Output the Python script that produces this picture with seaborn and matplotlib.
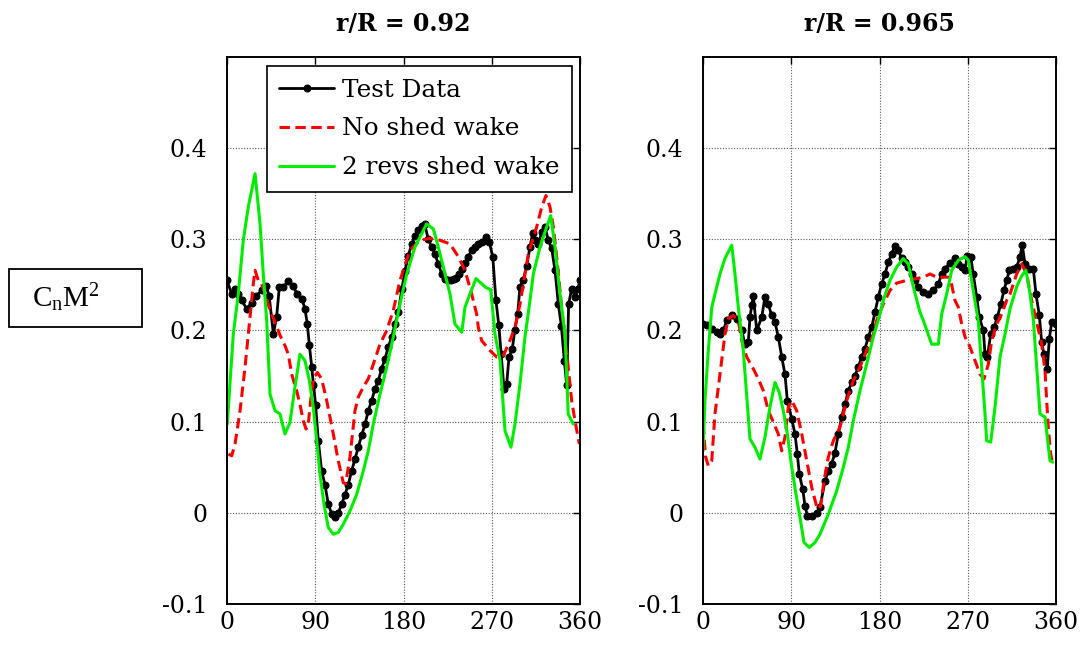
import matplotlib
matplotlib.use("Agg")
import matplotlib.pyplot as plt
from matplotlib.patches import Rectangle
import seaborn as sns

# ---- r/R = 0.92 ------------------------------------------------------------
test_az_92 = [0, 4.8, 8.2, 11.5, 15, 20, 25, 30, 35.4, 39.8, 43, 47.3, 50.6, 53.4,
              57.4, 62.5, 67, 71.7, 76.2, 79.5, 81.9, 84, 86.4, 88.2, 90.4, 93.1,
              96.5, 99.9, 103.3, 106.7, 110, 113.5, 117, 120.3, 123.7, 127.1,
              130.5, 133.9, 137.3, 140.7, 144.1, 147.5, 150.9, 154.3, 157.7,
              161.1, 164.5, 168, 171.3, 174.7, 178.2, 181.5, 184.9, 188.4, 191.8,
              195.2, 198.6, 201.5, 205.3, 208.8, 212, 215.5, 219, 222.3, 225,
              228, 231, 234, 237, 240, 243, 246.1, 249.5, 252.9, 256.3, 259.7,
              264.1, 267.5, 271, 274.3, 277.2, 279.6, 282.5, 285.2, 287.6, 291,
              293.4, 296.4, 298.8, 302.2, 305.6, 309, 311.7, 314.1, 317.5, 321,
              324.3, 327.7, 331.1, 334.5, 337.9, 341, 344, 346.5, 348.4, 351.5,
              354.9, 357.5, 360]
test_cn_92 = [0.255, 0.240, 0.246, 0.240, 0.233, 0.224, 0.230, 0.238, 0.244, 0.249,
              0.238, 0.196, 0.215, 0.248, 0.248, 0.254, 0.249, 0.240, 0.235, 0.224,
              0.207, 0.184, 0.160, 0.140, 0.118, 0.079, 0.046, 0.031, 0.0095,
              -0.001, -0.005, 0.000, 0.0095, 0.020, 0.031, 0.046, 0.059, 0.072,
              0.085, 0.097, 0.112, 0.123, 0.136, 0.145, 0.158, 0.169, 0.182, 0.193,
              0.207, 0.220, 0.245, 0.265, 0.282, 0.295, 0.304, 0.310, 0.315, 0.317,
              0.300, 0.2915, 0.284, 0.273, 0.262, 0.257, 0.255, 0.255, 0.256,
              0.258, 0.262, 0.268, 0.274, 0.281, 0.288, 0.2915, 0.2945, 0.297,
              0.3025, 0.297, 0.281, 0.233, 0.2055, 0.174, 0.136, 0.141, 0.171,
              0.180, 0.200, 0.218, 0.248, 0.255, 0.271, 0.2915, 0.307, 0.299,
              0.295, 0.308, 0.3135, 0.299, 0.290, 0.266, 0.229, 0.205, 0.167,
              0.140, 0.229, 0.246, 0.237, 0.245, 0.255]

noshed_az_92 = [1.4, 4.8, 8.2, 13.3, 18.4, 23.5, 26.8, 28.6, 31.9, 35, 38.8, 43.9,
                49, 54, 59.1, 62.5, 66, 71, 74.4, 77.8, 80.6, 82.9, 85.3, 88, 92.1,
                96.5, 101.7, 108.4, 113.5, 118.6, 121, 125.4, 130.5, 133.9, 139,
                144.1, 149.2, 156, 162.9, 169.6, 176.4, 186.6, 196.8, 207, 217.2,
                227.4, 235.9, 242.7, 249.5, 254.6, 256.3, 259.7, 268.2, 275, 281.8,
                288.6, 293.7, 298.8, 307.3, 315.8, 321, 325.3, 329.4, 332.8, 336.2,
                339.6, 343, 348, 351.5, 354.9, 359.3]
noshed_cn_92 = [0.0645, 0.0626, 0.0755, 0.112, 0.160, 0.215, 0.251, 0.266, 0.255,
                0.252, 0.240, 0.222, 0.209, 0.195, 0.1835, 0.174, 0.152, 0.134,
                0.119, 0.101, 0.092, 0.0975, 0.123, 0.147, 0.154, 0.147, 0.123,
                0.0865, 0.057, 0.033, 0.032, 0.061, 0.112, 0.127, 0.138, 0.147,
                0.163, 0.185, 0.200, 0.222, 0.255, 0.288, 0.299, 0.301, 0.299,
                0.295, 0.281, 0.266, 0.240, 0.218, 0.2035, 0.189, 0.178, 0.171,
                0.1725, 0.189, 0.2035, 0.229, 0.284, 0.3135, 0.3355, 0.348,
                0.3355, 0.3135, 0.281, 0.244, 0.207, 0.160, 0.123, 0.101, 0.0755]

shed_az_92 = [0.3, 6.4, 11.5, 16.6, 21.7, 28.6, 33.7, 37, 40.5, 43.9, 49, 54, 59.1,
              64.2, 69.3, 74.4, 79.5, 84, 88, 91.5, 94.8, 98.9, 103.3, 108.4, 113.5,
              118.6, 125.4, 132.3, 139, 144.1, 149.2, 156, 162.9, 169.6, 176.4,
              183.3, 191.7, 203.6, 210.4, 215.5, 220.6, 227.4, 232.5, 239.4, 242.7,
              247.8, 253.9, 258, 264.1, 268.9, 273.3, 278.5, 283.5, 289.6, 293.7,
              298.8, 303.9, 309, 312.4, 319.2, 326, 330.1, 334.5, 339.6, 344.7, 348,
              353.1]
shed_cn_92 = [0.0975, 0.196, 0.240, 0.299, 0.3355, 0.372, 0.317, 0.262, 0.210,
              0.130, 0.112, 0.1085, 0.0865, 0.099, 0.138, 0.174, 0.167, 0.145, 0.116,
              0.079, 0.0425, 0.0095, -0.016, -0.0235, -0.0215, -0.0125, 0.002,
              0.0205, 0.046, 0.068, 0.0975, 0.130, 0.160, 0.193, 0.229, 0.262,
              0.2915, 0.317, 0.3115, 0.2915, 0.2695, 0.240, 0.207, 0.198, 0.2255,
              0.240, 0.257, 0.253, 0.247, 0.245, 0.196, 0.167, 0.090, 0.072, 0.0975,
              0.1415, 0.193, 0.233, 0.262, 0.2915, 0.3135, 0.326, 0.2915, 0.240,
              0.196, 0.1085, 0.0975]

# ---- r/R = 0.965 -----------------------------------------------------------
test_az_965 = [0, 3.8, 8.9, 14, 17.3, 20.7, 24.2, 29.3, 34.4, 39.5, 42.8, 46.2,
               47.9, 49.7, 51.3, 54.8, 59.9, 63.2, 66.6, 70, 73.4, 76.8, 80.3, 83.6,
               86, 90.5, 93.8, 96.2, 98.2, 101.7, 104, 106.4, 110.9, 116, 119.3,
               124.4, 127.8, 131.2, 134.6, 138, 141.4, 144.8, 148.2, 151.6, 155,
               158.4, 161.8, 165.2, 168.6, 172, 175.4, 178.8, 182.2, 185.6, 189,
               192.4, 195.8, 199.2, 202.6, 206, 209.4, 212.8, 216.2, 219.6, 224.7,
               229.8, 234.9, 240, 243.4, 246.8, 251.9, 257, 260.4, 263.8, 267.2,
               269.5, 273, 275.6, 279.1, 281.8, 285.9, 287.6, 290, 293.4, 296.8,
               300.2, 303.6, 307, 309.7, 312.4, 315.8, 319.9, 323.3, 325.6, 328.4,
               332.8, 336.8, 339.6, 343, 345.4, 347.7, 351.1, 353.2, 355.6, 360]
test_cn_965 = [0.207, 0.2055, 0.202, 0.198, 0.196, 0.200, 0.211, 0.2165, 0.213,
               0.200, 0.185, 0.187, 0.2145, 0.2275, 0.238, 0.200, 0.2145, 0.237,
               0.229, 0.2165, 0.209, 0.193, 0.171, 0.152, 0.123, 0.103, 0.0865,
               0.0645, 0.0425, 0.026, 0.0077, -0.003, -0.003, 0.0003, 0.006, 0.035,
               0.046, 0.0535, 0.066, 0.0865, 0.105, 0.119, 0.134, 0.143, 0.1505,
               0.160, 0.171, 0.180, 0.193, 0.2035, 0.220, 0.237, 0.251, 0.262,
               0.275, 0.284, 0.293, 0.288, 0.279, 0.275, 0.2695, 0.262, 0.255,
               0.248, 0.242, 0.240, 0.244, 0.251, 0.262, 0.268, 0.274, 0.279,
               0.273, 0.2695, 0.266, 0.282, 0.281, 0.262, 0.237, 0.2145, 0.200,
               0.174, 0.171, 0.196, 0.2035, 0.2145, 0.229, 0.244, 0.255, 0.266,
               0.268, 0.2695, 0.281, 0.2935, 0.273, 0.268, 0.268, 0.240, 0.2165,
               0.187, 0.174, 0.158, 0.191, 0.209, 0.207]

noshed_az_965 = [0.3, 2.5, 5.4, 8.9, 12.2, 17.3, 22.4, 25.8, 30.9, 36, 39.5, 44.6,
                 51.3, 56.4, 61.5, 66.6, 71.1, 76.8, 80.3, 83.6, 87, 90.5, 95.6,
                 100.7, 105.8, 110.9, 116.6, 120, 123.4, 127.8, 132.9, 139.7, 146.5,
                 153.3, 160.1, 166.9, 173.7, 177.1, 183.9, 190.7, 197.5, 207.7,
                 217.9, 224.7, 231.5, 238.3, 245.1, 251.9, 257, 260.4, 263.8, 267.2,
                 272.3, 277.4, 282.5, 286.6, 291, 294.4, 299.5, 304.6, 309.7, 313.1,
                 319.9, 325, 330.1, 335.2, 340.3, 345.4, 348.8, 350.5, 352.1, 354.6,
                 356.6]
noshed_cn_965 = [0.0975, 0.062, 0.0516, 0.057, 0.1085, 0.152, 0.196, 0.213, 0.2165,
                 0.211, 0.189, 0.171, 0.158, 0.147, 0.134, 0.112, 0.101, 0.0865,
                 0.068, 0.083, 0.116, 0.123, 0.112, 0.0865, 0.057, 0.028, 0.004,
                 0.0077, 0.035, 0.061, 0.079, 0.094, 0.123, 0.145, 0.160, 0.178,
                 0.196, 0.211, 0.229, 0.244, 0.252, 0.255, 0.257, 0.2585, 0.262,
                 0.2585, 0.2585, 0.2585, 0.233, 0.2255, 0.207, 0.193, 0.182, 0.167,
                 0.152, 0.147, 0.163, 0.189, 0.207, 0.218, 0.233, 0.240, 0.262,
                 0.273, 0.262, 0.233, 0.209, 0.185, 0.156, 0.123, 0.094, 0.0645,
                 0.0535]

shed_az_965 = [0, 2, 5.4, 8.9, 12.2, 17.3, 22.4, 29.3, 32.6, 36, 39.5, 41.1, 47.9,
               53, 58.1, 63.2, 68.3, 73.4, 77.8, 81.9, 86, 90.5, 94.8, 98.9, 103,
               108.4, 114.2, 119.3, 127.8, 136.3, 143.1, 148.2, 153.3, 160.1, 166.9,
               173.7, 180.5, 183.9, 190.7, 197.5, 204.3, 209.4, 214.5, 221.3, 224.7,
               233.2, 240, 243.4, 248.5, 253.6, 260.4, 267.2, 270.6, 275.6, 280.8,
               284.2, 287.6, 289.3, 293.4, 297.8, 302.9, 308, 313.1, 319.9, 325,
               329.4, 333.5, 336.8, 340.3, 343.7, 348.8, 353.9, 356.6]
shed_cn_965 = [0.068, 0.123, 0.178, 0.225, 0.240, 0.262, 0.279, 0.2935, 0.262,
               0.2255, 0.193, 0.178, 0.081, 0.072, 0.059, 0.083, 0.116, 0.143,
               0.132, 0.112, 0.0865, 0.050, 0.0205, -0.005, -0.0325, -0.038,
               -0.0325, -0.0235, -0.0015, 0.024, 0.050, 0.072, 0.101, 0.134, 0.163,
               0.193, 0.218, 0.233, 0.255, 0.2695, 0.279, 0.273, 0.248, 0.220,
               0.211, 0.185, 0.185, 0.218, 0.240, 0.266, 0.277, 0.281, 0.277,
               0.244, 0.210, 0.160, 0.1085, 0.079, 0.0775, 0.116, 0.171, 0.196,
               0.224, 0.248, 0.260, 0.266, 0.240, 0.213, 0.160, 0.1085, 0.105,
               0.057, 0.0555]

panel_titles = ["r/R = 0.92", "r/R = 0.965"]
series_labels = ["Test Data", "No shed wake", "2 revs shed wake"]
x_ticks = [0, 90, 180, 270, 360]
y_ticks = [-0.1, 0, 0.1, 0.2, 0.3, 0.4]
y_tick_labels = ["-0.1", "0", "0.1", "0.2", "0.3", "0.4"]
y_axis_label = r"$\mathregular{C_nM^2}$"

sns.set_style("white")
plt.rcParams["font.family"] = ["DejaVu Serif"]
plt.rcParams["axes.unicode_minus"] = False
plt.rcParams["text.color"] = "black"

fig = plt.figure(figsize=(10.85, 6.45), dpi=100)
ax_w, ax_h, ax_b = 353 / 1085, 547 / 645, 41 / 645
axes = [fig.add_axes([227 / 1085, ax_b, ax_w, ax_h]),
        fig.add_axes([703 / 1085, ax_b, ax_w, ax_h])]

panels = [
    (test_az_92, test_cn_92, noshed_az_92, noshed_cn_92, shed_az_92, shed_cn_92),
    (test_az_965, test_cn_965, noshed_az_965, noshed_cn_965, shed_az_965, shed_cn_965),
]

for i, (ax, data) in enumerate(zip(axes, panels)):
    t_az, t_cn, n_az, n_cn, s_az, s_cn = data
    sns.lineplot(x=t_az, y=t_cn, ax=ax, color="black", linewidth=2.0,
                 marker="o", markersize=5, markeredgecolor="black",
                 markerfacecolor="black", sort=False, estimator=None,
                 label=series_labels[0])
    sns.lineplot(x=n_az, y=n_cn, ax=ax, color="#ff0000", linewidth=2.2,
                 linestyle=(0, (3.4, 1.8)), sort=False, estimator=None,
                 label=series_labels[1])
    sns.lineplot(x=s_az, y=s_cn, ax=ax, color="#00ee00", linewidth=2.2,
                 sort=False, estimator=None, label=series_labels[2])

    ax.set_xlim(0, 360)
    ax.set_ylim(-0.1, 0.5)
    ax.set_xticks(x_ticks)
    ax.set_xticklabels([str(t) for t in x_ticks])
    ax.set_yticks(y_ticks)
    ax.set_yticklabels(y_tick_labels)
    ax.set_xlabel("")
    ax.set_ylabel("")
    ax.grid(True, linestyle=(0, (1, 1.5)), color="0.35", linewidth=0.8)
    ax.tick_params(direction="in", top=True, right=True, length=5, width=1,
                   labelsize=17, colors="black")
    ax.tick_params(axis="y", pad=14)
    ax.tick_params(axis="x", pad=5)
    for sp in ax.spines.values():
        sp.set_visible(True)
        sp.set_color("black")
        sp.set_linewidth(1.4)
    ax.set_title(panel_titles[i], fontsize=17, fontweight="bold", pad=19,
                 color="black")

    if i == 0:
        leg = ax.legend(loc="upper right", bbox_to_anchor=(0.978, 0.983),
                        fontsize=17.8, frameon=True, fancybox=False,
                        framealpha=1, edgecolor="black", borderpad=0.5,
                        labelspacing=0.64, handlelength=2.2, handletextpad=0.35,
                        borderaxespad=0, labelcolor="black")
        leg.get_frame().set_linewidth(1.2)
    else:
        if ax.get_legend() is not None:
            ax.get_legend().remove()

# boxed quantity label to the left of the panels
fig.patches.append(Rectangle((9 / 1085, 318 / 645), 133 / 1085, 58 / 645,
                             transform=fig.transFigure, fill=False,
                             edgecolor="black", linewidth=1.3))
fig.text(32 / 1085, 347 / 645, y_axis_label, fontsize=21, color="black",
         family="Liberation Serif", va="center", ha="left")

fig.savefig("out.png", dpi=100, facecolor="white")
